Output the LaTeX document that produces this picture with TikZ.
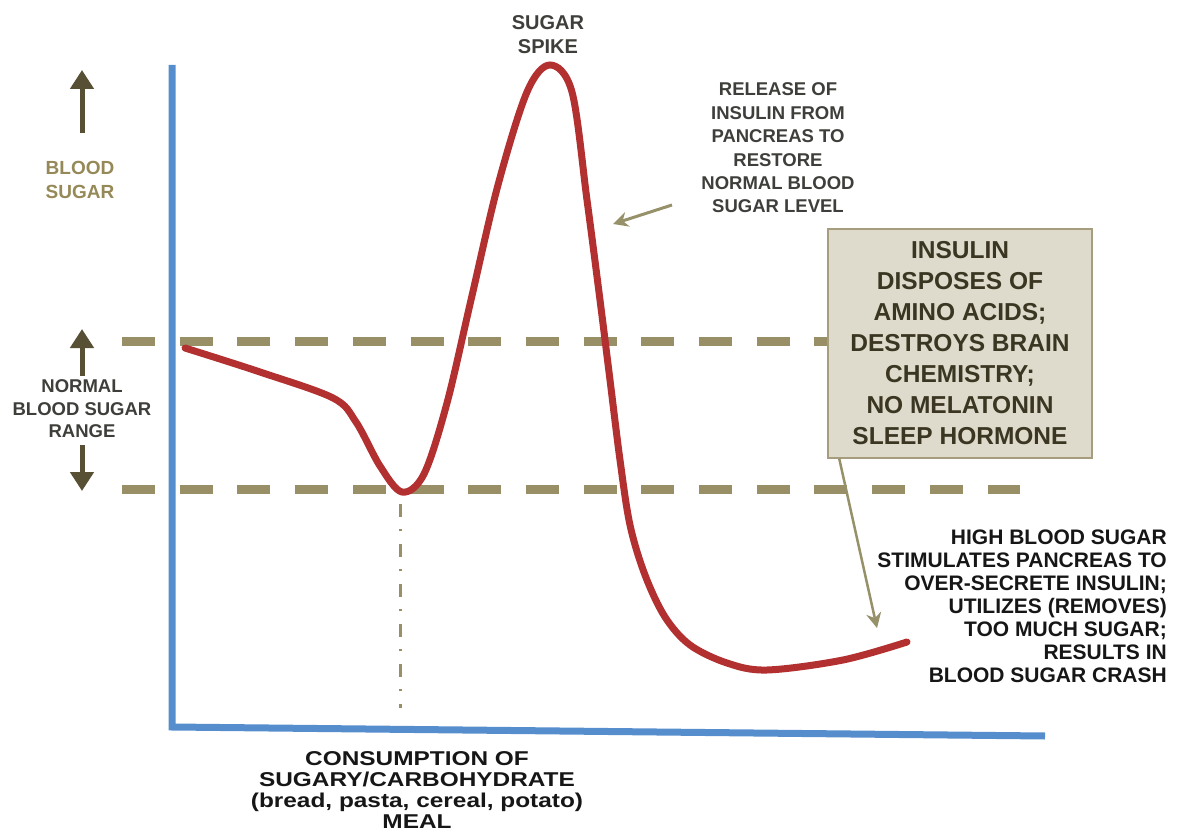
\documentclass[tikz,border=0pt]{standalone}
\usepackage{fontspec}
\setmainfont{Liberation Sans}
\newfontfamily\widesans{Liberation Sans}[FakeStretch=1.22]
\usetikzlibrary{arrows.meta,calc}

\definecolor{axisblue}{RGB}{86,142,205}
\definecolor{curvered}{RGB}{178,48,48}
\definecolor{rangekhaki}{RGB}{152,143,102}
\definecolor{arrowolive}{RGB}{88,80,52}
\definecolor{pointerkhaki}{RGB}{150,145,105}
\definecolor{labelkhaki}{RGB}{150,137,88}
\definecolor{labelgray}{RGB}{62,62,58}
\definecolor{boxfill}{RGB}{222,219,204}
\definecolor{boxline}{RGB}{165,157,125}
\definecolor{boxtext}{RGB}{58,54,34}
\definecolor{nearblack}{RGB}{22,22,22}

\begin{document}
\begin{tikzpicture}[x=1pt,y=-1pt,
  lbl/.style={align=center,inner sep=0pt},
  rangeline/.style={rangekhaki,line width=9pt,dash pattern=on 33pt off 24.7pt},
  bigarrow/.style={arrowolive,line width=5pt,-{Triangle[width=23pt,length=19pt]}},
  pointer/.style={pointerkhaki,line width=3pt,-{Stealth[width=15pt,length=15pt]}},
  notebox/.style={draw=boxline,line width=1.5pt,fill=boxfill,minimum width=264pt,
    minimum height=229pt,inner sep=0pt,align=center,text=boxtext,
    font=\fontsize{24.5}{31}\selectfont\bfseries}]
\useasboundingbox (0,0) rectangle (1187,837);

% normal range limits
\draw[rangeline] (122,341) -- (1020,341);
\draw[rangeline] (122,489) -- (1020,489);

% meal marker
\draw[rangekhaki,line width=3pt,dash pattern=on 13pt off 12pt on 2pt off 13pt] (400,504) -- (400,708);

% axes
\draw[axisblue,line width=7pt,line join=miter] (172,65) -- (172,727) -- (1045,736);

% blood sugar curve
\draw[curvered,line width=7pt,line cap=round] plot[smooth,tension=0.55] coordinates {
  (185,348) (260,372) (333,398) (356,422) (380,466) (402,492) (424,474) (447,403)
  (471,300) (498,185) (527,92) (550,65) (572,92) (587,200)
  (600,300) (610,380) (620,460) (630,525) (645,575) (665,617) (690,645) (727,663)
  (767,670) (843,660) (907,642)};

% left labels
\node[lbl,text=labelkhaki,font=\fontsize{19}{24}\selectfont\bfseries] (bs) at (80,180) {BLOOD\\SUGAR};
\coordinate (bsTop) at (82,70);
\draw[bigarrow] ($(bs.north)+(2,-28)$) -- (bsTop);

\node[lbl,text=labelgray,font=\fontsize{18.5}{22.5}\selectfont\bfseries] (range) at (82,409) {NORMAL\\BLOOD SUGAR\\RANGE};
\coordinate (rangeTop) at (82,329);
\coordinate (rangeBot) at (82,491);
\draw[bigarrow] ($(range.north)+(0,-4)$) -- (rangeTop);
\draw[bigarrow] ($(range.south)+(0,7)$) -- (rangeBot);

% peak label
\node[lbl,text=labelgray,font=\fontsize{20}{24}\selectfont\bfseries] (spike) at (548,35) {SUGAR\\SPIKE};

% insulin release
\node[lbl,text=labelgray,font=\fontsize{18.5}{23.4}\selectfont\bfseries] (release) at (778,148)
  {RELEASE OF\\INSULIN FROM\\PANCREAS TO\\RESTORE\\NORMAL BLOOD\\SUGAR LEVEL};
\coordinate (relTail) at (672,205);
\coordinate (relTip) at (613,224);
\draw[pointer] (relTail) -- (relTip);

% effects box
\node[notebox] (box) at (960,343.5)
  {INSULIN\\DISPOSES OF\\AMINO ACIDS;\\DESTROYS BRAIN\\CHEMISTRY;\\NO MELATONIN\\SLEEP HORMONE};
\coordinate (crashTip) at (877,628);
\draw[pointer,line width=2.5pt] ($(box.south west)+(12,0)$) -- (crashTip);

% crash explanation
\node[lbl,align=right,anchor=east,text=nearblack,font=\fontsize{21}{23}\selectfont\bfseries] (crash) at (1167,606)
  {HIGH BLOOD SUGAR\\STIMULATES PANCREAS TO\\OVER-SECRETE INSULIN;\\UTILIZES (REMOVES)\\TOO MUCH SUGAR;\\RESULTS IN\\BLOOD SUGAR CRASH};

% meal label
\node[lbl,text=nearblack,font=\widesans\fontsize{20}{21}\selectfont\bfseries] (meal) at (417,790)
  {CONSUMPTION OF\\SUGARY/CARBOHYDRATE\\(bread, pasta, cereal, potato)\\MEAL};
\end{tikzpicture}
\end{document}
